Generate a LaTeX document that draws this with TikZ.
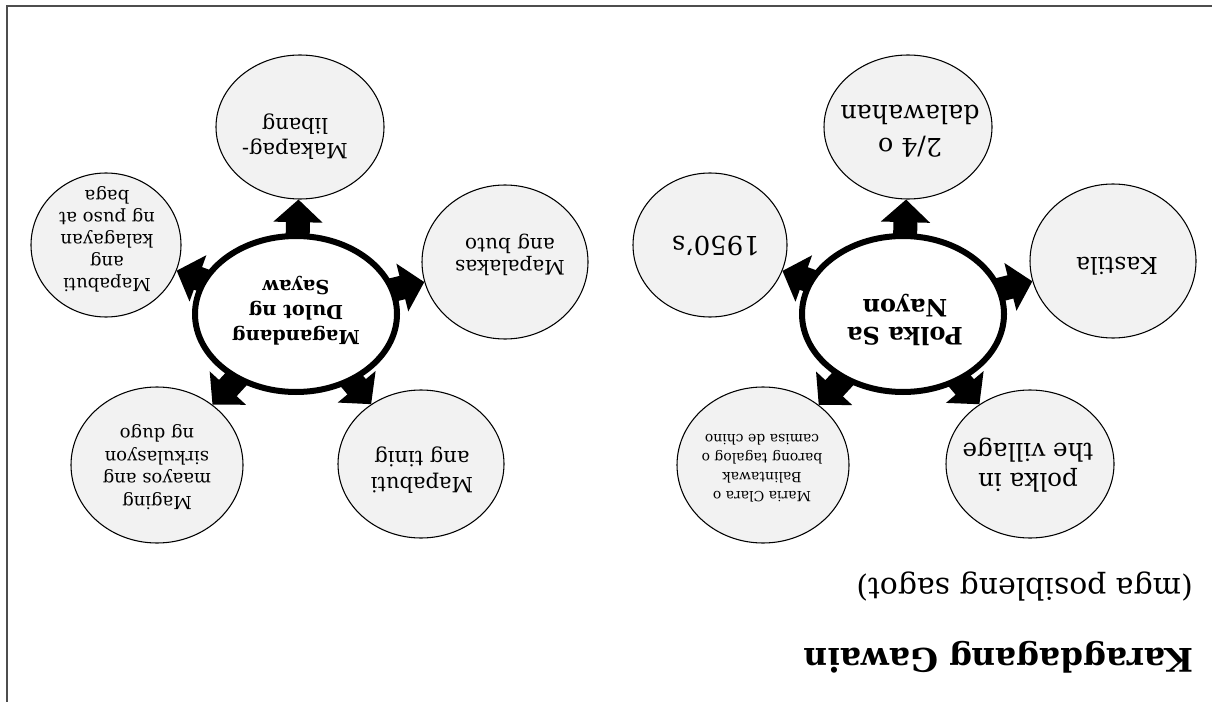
\documentclass[tikz,border=0pt]{standalone}
\usepackage{fontspec}
\setmainfont{DejaVu Serif}
\usetikzlibrary{shapes.geometric,arrows.meta,backgrounds}
\definecolor{satgray}{HTML}{F2F2F2}
\definecolor{framegray}{HTML}{4D4D4D}
\newcommand\pxfont[2]{\fontsize{#1}{#2}\selectfont}
\begin{document}
\begin{tikzpicture}[x=0.75pt,y=-0.75pt,
  sat/.style={ellipse,draw=black,line width=0.8pt,fill=satgray,inner sep=0pt},
  hub/.style={ellipse,draw=black,line width=4.5pt,fill=white,inner sep=0pt,minimum width=151.5pt,minimum height=117pt},
  lbl/.style={rotate=180,align=center,inner sep=0pt,text=black},
  bigarrow/.style={draw=black,line width=18pt,-{Triangle[width=36pt,length=17pt]}},
  frame/.style={draw=framegray,line width=1.5pt}]
\useasboundingbox (0,0) rectangle (1212,702);
\draw[frame] (7,702) -- (7,6) -- (1212,6);

% right group
\node[hub] (hubR) at (903,314) {};
\node[sat,minimum width=126pt,minimum height=108pt] (r1) at (908,127) {};
\node[sat,minimum width=115.5pt,minimum height=108pt] (r2) at (710,245) {};
\node[sat,minimum width=124.5pt,minimum height=115.5pt] (r3) at (1113,261) {};
\node[sat,minimum width=126pt,minimum height=111pt] (r4) at (1030,464) {};
\node[sat,minimum width=129pt,minimum height=117pt] (r5) at (763,465) {};

% left group
\node[hub] (hubL) at (296,314) {};
\node[sat,minimum width=126pt,minimum height=108pt] (l1) at (300,127) {};
\node[sat,minimum width=112.5pt,minimum height=108pt] (l2) at (106,245) {};
\node[sat,minimum width=124.5pt,minimum height=115.5pt] (l3) at (505,262) {};
\node[sat,minimum width=124.5pt,minimum height=111pt] (l4) at (421,464) {};
\node[sat,minimum width=129pt,minimum height=117pt] (l5) at (157,465) {};

\begin{scope}[on background layer]
  \foreach \s in {r1,r2,r3,r4,r5} \draw[bigarrow] (hubR.center) -- (\s);
  \foreach \s in {l1,l2,l3,l4,l5} \draw[bigarrow] (hubL.center) -- (\s);
\end{scope}

% labels
\node[lbl,font=\pxfont{18pt}{21pt}\bfseries] (hubRt) at (905,320) {Polka Sa\\Nayon};
\node[lbl,font=\pxfont{14.5pt}{18.75pt}\bfseries] (hubLt) at (296,311) {Magandang\\Dulot ng\\Sayaw};

\node[lbl,font=\pxfont{19pt}{24.75pt}] (r1t) at (910,131) {2/4 o\\dalawahan};
\node[lbl,font=\pxfont{19.5pt}{22pt}] (r2t) at (716,246) {1950’s};
\node[lbl,font=\pxfont{17.5pt}{22pt}] (r3t) at (1117,266) {Kastila};
\node[lbl,font=\pxfont{18.5pt}{22.5pt}] (r4t) at (1028,465) {polka in\\the village};
\node[lbl,font=\pxfont{10.5pt}{14.25pt}] (r5t) at (762,468) {Maria Clara o\\Balintawak\\barong tagalog o\\camisa de chino};

\node[lbl,font=\pxfont{15.75pt}{18.75pt}] (l1t) at (295,137) {Makapag-\\libang};
\node[lbl,font=\pxfont{13.5pt}{16.5pt}] (l2t) at (107,239) {Mapabuti\\ang\\kalagayan\\ng puso at\\baga};
\node[lbl,font=\pxfont{15pt}{16.5pt}] (l3t) at (510,255) {Mapalakas\\ang buto};
\node[lbl,font=\pxfont{15.75pt}{20pt}] (l4t) at (422,470) {Mapabuti\\ang tinig};
\node[lbl,font=\pxfont{13.5pt}{16.9pt}] (l5t) at (157,467) {Maging\\maayos ang\\sirkulasyon\\ng dugo};

% headings
\node[lbl,anchor=base west,font=\pxfont{24.4pt}{28pt}\bfseries] (title) at (1194,648) {Karagdagang Gawain};
\node[lbl,anchor=base west,font=\pxfont{22.4pt}{26pt}] (sub) at (1193,578) {(mga posibleng sagot)};
\end{tikzpicture}
\end{document}
